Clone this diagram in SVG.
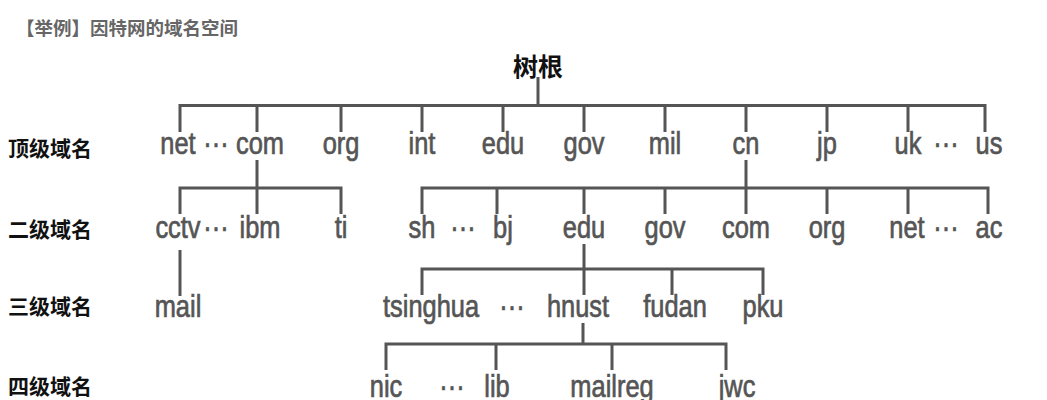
<svg xmlns="http://www.w3.org/2000/svg" width="1047" height="400" viewBox="0 0 1047 400">
<style>
.t{font-family:"Liberation Sans",Arial,sans-serif;font-size:31px;fill:#555;stroke:#555;stroke-width:0.7;text-anchor:middle}
.lv{font-family:"Noto Sans CJK SC","Noto Sans",sans-serif;font-weight:bold;font-size:21px;fill:#111}
.title{font-family:"Noto Sans CJK SC","Noto Sans",sans-serif;font-weight:bold;font-size:18.5px;fill:#666}
.root{font-family:"Noto Sans CJK SC","Noto Sans",sans-serif;font-weight:bold;font-size:25px;fill:#111;text-anchor:middle}
.c{stroke:#555;stroke-width:3;fill:none}
</style>
<rect width="1047" height="400" fill="#fff"/>
<text class="title" x="16" y="35">【举例】因特网的域名空间</text>
<g id="levels">
<text class="lv" x="8" y="156">顶级域名</text>
<text class="lv" x="8" y="237">二级域名</text>
<text class="lv" x="8" y="314">三级域名</text>
<text class="lv" x="8" y="394">四级域名</text>
</g>
<g id="connectors" class="c">
<path d="M538,77V105.5M180,132V105.5H985V132M257,105.5V132M341,105.5V132M422,105.5V132M503,105.5V132M584,105.5V132M665,105.5V132M746,105.5V132M827,105.5V132M908,105.5V132"/>
<path d="M257,160V188M180,214V188H341V214M257,188V214"/>
<path d="M746,160V188M422,214V188H988V214M497,188V214M584,188V214M665,188V214M746,188V214M827,188V214M908,188V214"/>
<path d="M180,250V296"/>
<path d="M584,244V269M422,295V269H763V295M584,269V295M672,269V295"/>
<path d="M583,323V344M386,370V344H726V370M496,344V370M612,344V370"/>
</g>
<g id="root"><text class="root" x="538" y="76">树根</text></g>
<g id="tld">
<text class="t" transform="translate(178,154) scale(0.82,1)">net</text>
<text class="t" transform="translate(216,154) scale(0.82,1)">···</text>
<text class="t" transform="translate(260,154) scale(0.82,1)">com</text>
<text class="t" transform="translate(341,154) scale(0.82,1)">org</text>
<text class="t" transform="translate(422,154) scale(0.82,1)">int</text>
<text class="t" transform="translate(503,154) scale(0.82,1)">edu</text>
<text class="t" transform="translate(584,154) scale(0.82,1)">gov</text>
<text class="t" transform="translate(665,154) scale(0.82,1)">mil</text>
<text class="t" transform="translate(746,154) scale(0.82,1)">cn</text>
<text class="t" transform="translate(827,154) scale(0.82,1)">jp</text>
<text class="t" transform="translate(908,154) scale(0.82,1)">uk</text>
<text class="t" transform="translate(946,154) scale(0.82,1)">···</text>
<text class="t" transform="translate(989,154) scale(0.82,1)">us</text>
</g>
<g id="sld">
<text class="t" transform="translate(178,238) scale(0.82,1)">cctv</text>
<text class="t" transform="translate(216,238) scale(0.82,1)">···</text>
<text class="t" transform="translate(260,238) scale(0.82,1)">ibm</text>
<text class="t" transform="translate(341,238) scale(0.82,1)">ti</text>
<text class="t" transform="translate(422,238) scale(0.82,1)">sh</text>
<text class="t" transform="translate(463,238) scale(0.82,1)">···</text>
<text class="t" transform="translate(503,238) scale(0.82,1)">bj</text>
<text class="t" transform="translate(584,238) scale(0.82,1)">edu</text>
<text class="t" transform="translate(665,238) scale(0.82,1)">gov</text>
<text class="t" transform="translate(746,238) scale(0.82,1)">com</text>
<text class="t" transform="translate(827,238) scale(0.82,1)">org</text>
<text class="t" transform="translate(907,238) scale(0.82,1)">net</text>
<text class="t" transform="translate(946,238) scale(0.82,1)">···</text>
<text class="t" transform="translate(989,238) scale(0.82,1)">ac</text>
</g>
<g id="third">
<text class="t" transform="translate(178,317) scale(0.82,1)">mail</text>
<text class="t" transform="translate(431,317) scale(0.82,1)">tsinghua</text>
<text class="t" transform="translate(512,317) scale(0.82,1)">···</text>
<text class="t" transform="translate(578,317) scale(0.82,1)">hnust</text>
<text class="t" transform="translate(675,317) scale(0.82,1)">fudan</text>
<text class="t" transform="translate(763,317) scale(0.82,1)">pku</text>
</g>
<g id="fourth">
<text class="t" transform="translate(386,397) scale(0.82,1)">nic</text>
<text class="t" transform="translate(452,397) scale(0.82,1)">···</text>
<text class="t" transform="translate(497,397) scale(0.82,1)">lib</text>
<text class="t" transform="translate(612,397) scale(0.82,1)">mailreg</text>
<text class="t" transform="translate(737,397) scale(0.82,1)">jwc</text>
</g>
</svg>
